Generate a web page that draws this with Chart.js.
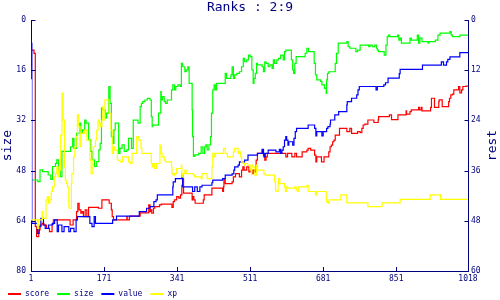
<!DOCTYPE html>
<html><head><meta charset="utf-8">
<script src="https://cdn.jsdelivr.net/npm/chart.js@4/dist/chart.umd.min.js"></script>
<style>html,body{margin:0;padding:0;background:#fff}canvas{display:block}</style>
</head><body>
<canvas id="c" width="500" height="300"></canvas>
<script>
const NAVY = '#00007f';
const MONO = "'DejaVu Sans Mono', 'Liberation Mono', monospace";
const titleText = 'Ranks : 2:9';
const leftAxisTitle = 'size';
const rightAxisTitle = 'rest';
const seriesNames = ['score', 'size', 'value', 'xp'];
const seriesColors = ['#ff0000', '#00ff00', '#0000ff', '#ffff00'];
const xTicks = [1, 171, 341, 511, 681, 851, 1018];

// [x, rank] pairs, value holds until the next x
const score = [[1,12.0],[2,8.0],[8,7.2],[11,8.0],[14,49.4],[19,51.8],[22,50.2],[27,49.0],[31,48.6],[37,49.0],[44,49.8],[50,50.6],[53,48.8],[92,47.8],[99,49.0],[107,47.8],[110,45.8],[113,43.8],[117,45.4],[120,46.2],[123,45.8],[127,47.0],[131,45.4],[135,47.0],[158,44.8],[166,45.0],[183,43.0],[188,43.8],[190,45.4],[193,47.0],[224,47.8],[225,47.0],[230,47.8],[231,47.0],[255,46.9],[275,46.1],[278,44.2],[279,45.8],[282,45.4],[286,46.2],[289,45.0],[300,44.6],[304,44.2],[329,44.0],[332,44.8],[335,43.4],[340,43.0],[345,42.2],[349,42.6],[352,41.8],[354,39.5],[356,37.9],[376,41.4],[377,43.0],[380,42.2],[383,43.0],[402,43.8],[404,43.0],[422,41.8],[447,40.2],[449,41.0],[450,39.9],[453,37.9],[469,39.1],[472,38.7],[477,37.5],[486,36.7],[491,37.5],[494,35.9],[497,35.1],[503,35.9],[508,35.1],[511,36.3],[515,35.9],[518,36.7],[522,35.9],[525,36.3],[528,33.5],[539,31.9],[542,31.1],[545,32.3],[548,33.5],[551,32.7],[594,31.9],[598,32.7],[608,31.9],[615,32.7],[619,31.9],[632,32.7],[643,31.5],[646,31.1],[652,30.7],[661,31.1],[664,32.3],[666,33.9],[677,32.7],[683,33.9],[694,32.7],[697,31.5],[700,30.3],[703,29.9],[706,29.1],[709,28.7],[719,27.5],[736,25.9],[743,26.7],[747,25.9],[761,27.1],[767,26.7],[771,26.9],[774,25.9],[778,25.1],[785,24.9],[799,23.9],[809,24.5],[810,23.8],[835,23.1],[840,22.7],[855,23.8],[874,22.7],[875,21.7],[883,22.5],[886,21.9],[903,21.5],[905,20.9],[909,21.5],[911,20.9],[931,21.7],[933,20.9],[940,18.7],[950,20.9],[951,19.5],[958,19.1],[973,20.7],[975,19.5],[978,18.7],[982,17.9],[985,17.7],[996,16.7],[999,15.9],[1003,17.4],[1006,16.7],[1013,15.9],[1018,15.8]];

const size = [[1,14.9],[17,51.0],[22,51.5],[28,47.8],[41,48.3],[47,49.4],[51,50.8],[58,46.7],[61,45.7],[65,44.6],[69,47.8],[73,49.9],[93,41.9],[98,40.4],[101,37.7],[107,40.9],[114,36.1],[117,32.9],[121,36.1],[126,35.0],[129,31.9],[135,32.9],[140,38.2],[143,41.9],[149,44.6],[154,46.7],[159,45.1],[162,41.4],[165,39.3],[168,28.1],[174,28.7],[177,31.3],[182,29.7],[185,21.2],[188,26.6],[191,37.2],[194,39.3],[197,35.0],[205,32.9],[208,42.5],[213,40.9],[218,39.8],[224,41.9],[228,41.4],[235,37.7],[239,40.9],[250,31.9],[255,32.9],[258,27.6],[261,26.6],[266,26.0],[272,25.5],[278,25.0],[281,25.5],[283,30.8],[284,34.0],[298,33.5],[303,29.7],[304,22.8],[307,25.5],[311,24.4],[314,26.0],[318,26.6],[328,25.5],[331,22.3],[335,20.7],[338,22.3],[343,21.2],[348,20.7],[351,21.2],[354,13.8],[359,14.9],[362,16.5],[366,15.9],[369,14.9],[376,20.2],[377,28.7],[379,37.2],[382,43.5],[391,43.0],[397,42.5],[401,40.4],[405,42.5],[408,40.4],[411,39.8],[415,41.4],[419,39.8],[421,37.2],[424,29.7],[427,22.3],[430,20.7],[433,22.3],[453,20.2],[456,17.0],[466,18.6],[469,17.5],[472,14.9],[475,18.6],[480,17.5],[486,17.0],[491,16.5],[495,14.9],[498,12.2],[503,13.3],[507,12.7],[511,11.2],[515,11.7],[518,15.9],[520,20.2],[523,18.6],[526,17.0],[528,13.8],[539,14.3],[542,14.9],[545,16.5],[548,13.3],[553,13.8],[557,14.9],[562,14.3],[565,15.4],[568,12.7],[573,13.8],[577,12.7],[582,12.2],[588,11.2],[591,12.7],[594,10.1],[607,9.6],[610,12.7],[612,15.9],[615,17.0],[618,13.8],[639,11.7],[643,10.6],[647,9.0],[660,10.1],[663,13.8],[666,17.5],[675,19.1],[678,19.6],[684,20.7],[688,21.8],[689,23.4],[691,19.1],[694,17.0],[709,16.5],[712,13.8],[716,10.6],[736,7.4],[739,6.9],[743,8.5],[757,9.0],[761,10.1],[767,9.6],[787,8.0],[790,8.5],[795,8.0],[801,8.5],[805,8.0],[807,9.0],[810,9.6],[823,10.1],[827,11.2],[830,8.0],[833,5.3],[836,4.8],[854,5.3],[857,4.8],[860,6.4],[863,5.8],[883,7.4],[886,5.8],[900,6.4],[903,4.8],[906,7.4],[911,5.8],[925,6.9],[927,7.4],[942,6.9],[948,6.4],[953,4.8],[976,4.2],[979,3.7],[982,4.8],[999,5.3],[1004,4.8],[1018,4.8]];

const value = [[1,4.8],[3,5.6],[16,48.6],[20,51.0],[24,49.4],[30,47.4],[34,49.0],[42,49.8],[51,49.0],[56,48.6],[62,47.8],[65,50.6],[73,49.0],[78,50.6],[89,49.4],[93,50.6],[101,49.8],[106,50.6],[109,47.8],[138,47.0],[143,48.6],[148,49.4],[151,47.0],[191,48.6],[200,47.8],[253,46.9],[270,45.8],[278,45.0],[287,44.6],[292,43.4],[295,43.0],[331,41.8],[332,39.9],[337,38.7],[352,37.9],[354,37.1],[377,39.9],[382,41.0],[388,39.9],[394,41.0],[399,39.9],[422,39.5],[424,38.9],[447,38.3],[453,37.9],[469,37.1],[473,36.8],[475,35.9],[483,35.1],[486,34.7],[498,33.9],[506,33.5],[528,32.3],[539,31.9],[542,30.9],[543,31.9],[546,32.7],[553,31.9],[571,31.1],[579,31.5],[582,30.9],[585,31.9],[588,31.1],[591,30.3],[594,28.7],[596,27.9],[599,28.7],[601,29.9],[610,29.1],[613,29.9],[616,28.3],[619,26.7],[646,25.9],[661,25.1],[664,25.9],[666,27.7],[678,26.7],[681,27.7],[689,26.7],[692,25.9],[697,25.5],[698,24.9],[708,23.9],[717,22.7],[736,21.9],[737,20.3],[747,19.5],[759,18.7],[762,17.9],[765,16.7],[804,15.9],[807,16.7],[822,15.9],[826,15.5],[832,15.0],[858,13.9],[860,12.8],[912,11.8],[956,10.8],[961,10.0],[968,10.8],[971,10.0],[976,9.4],[999,8.8],[1002,7.8],[1018,7.8]];

const xp = [[1,15.9],[2,14.3],[16,47.8],[19,49.8],[27,47.8],[28,45.8],[36,47.4],[39,43.0],[42,42.2],[45,43.8],[48,43.0],[51,41.0],[55,39.9],[58,37.5],[61,36.7],[64,35.1],[67,37.5],[70,35.9],[73,27.5],[76,17.5],[79,23.9],[81,35.1],[83,38.3],[86,39.1],[89,39.9],[90,44.6],[95,45.0],[96,39.1],[100,36.7],[103,32.7],[106,30.3],[109,27.9],[112,22.7],[115,25.5],[118,30.3],[125,27.1],[131,26.3],[138,28.7],[141,33.5],[145,36.7],[146,33.5],[151,30.3],[154,28.7],[157,26.3],[160,23.9],[163,24.7],[166,25.5],[168,23.9],[169,20.7],[173,23.9],[183,19.1],[187,22.3],[190,26.3],[193,31.9],[196,30.3],[202,31.1],[208,33.5],[214,33.9],[228,32.7],[232,33.9],[236,34.3],[247,31.9],[252,27.9],[257,28.7],[259,30.7],[281,31.9],[283,34.3],[286,35.1],[289,34.3],[293,35.5],[301,34.3],[304,29.9],[306,31.9],[311,32.7],[314,33.5],[328,33.9],[329,35.1],[332,36.7],[335,37.1],[340,36.7],[351,35.5],[352,34.7],[354,37.5],[359,36.7],[362,35.9],[379,36.7],[382,37.1],[397,37.5],[399,37.9],[411,36.7],[422,37.9],[424,35.1],[427,31.9],[430,32.7],[449,31.9],[453,30.7],[458,31.9],[472,32.7],[475,31.5],[483,30.7],[484,31.9],[489,31.5],[491,32.7],[495,33.9],[498,34.3],[500,34.7],[505,34.3],[511,34.7],[514,35.9],[515,36.7],[518,34.7],[522,35.1],[526,37.1],[528,34.7],[543,35.9],[546,36.7],[568,37.1],[570,38.7],[571,40.6],[576,41.0],[577,39.1],[580,37.9],[591,39.1],[593,39.9],[596,41.0],[598,39.9],[615,40.2],[618,39.9],[621,40.6],[624,41.0],[643,39.9],[646,39.5],[663,41.0],[666,41.8],[688,41.0],[689,42.2],[692,43.4],[695,43.8],[722,43.0],[736,41.8],[785,43.7],[818,44.6],[860,43.7],[930,42.9],[954,41.8],[979,42.9],[1018,42.9]];

const seriesData = [score, size, value, xp];
const seriesAxis = ['y1', 'y', 'y1', 'y1'];

const tickFont = { family: MONO, size: 8 };
const titleFont = { family: MONO, size: 13 };

const inwardTicks = {
  id: 'inwardTicks',
  afterDraw(chart) {
    const ctx = chart.ctx, a = chart.chartArea, L = 4;
    const sx = chart.scales.x, sy = chart.scales.y, sy1 = chart.scales.y1;
    ctx.save();
    ctx.strokeStyle = NAVY; ctx.lineWidth = 1;
    ctx.beginPath();
    sx.ticks.forEach((t, i) => { const p = Math.round(sx.getPixelForTick(i)) + 0.5; ctx.moveTo(p, a.bottom); ctx.lineTo(p, a.bottom - L); });
    sy.ticks.forEach((t, i) => { const p = Math.round(sy.getPixelForTick(i)) + 0.5; ctx.moveTo(a.left, p); ctx.lineTo(a.left + L + 0.5, p); });
    sy1.ticks.forEach((t, i) => { const p = Math.round(sy1.getPixelForTick(i)) + 0.5; ctx.moveTo(a.right + 1, p); ctx.lineTo(a.right - L + 0.5, p); });
    ctx.stroke();
    // right axis title, written upward like the left one
    ctx.fillStyle = NAVY;
    ctx.font = '13px ' + MONO;
    ctx.textAlign = 'center';
    ctx.textBaseline = 'middle';
    ctx.translate(sy1.right - 7.8, (a.top + a.bottom) / 2);
    ctx.rotate(-Math.PI / 2);
    ctx.fillText(rightAxisTitle, 0, 0);
    ctx.restore();
  }
};
const layoutTweak = {
  id: 'layoutTweak',
  afterLayout(chart) {
    const lg = chart.legend;
    if (lg) { lg.top += 8; lg.bottom += 8; }
    const sx = chart.scales.x;
    sx.bottom = sx.top + 18; sx.height = 18;
  }
};

new Chart(document.getElementById('c'), {
  type: 'line',
  data: {
    datasets: seriesNames.map((name, i) => ({
      label: name,
      data: seriesData[i].map(p => ({ x: p[0], y: p[1] })),
      yAxisID: seriesAxis[i],
      borderColor: seriesColors[i],
      backgroundColor: seriesColors[i],
      borderWidth: 1.2,
      pointRadius: 0,
      stepped: 'after',
      fill: false,
      order: 3 - i
    }))
  },
  options: {
    responsive: false,
    animation: false,
    devicePixelRatio: 1,
    layout: { padding: 0 },
    plugins: {
      title: { display: true, text: titleText, color: NAVY, font: { family: MONO, size: 13, weight: 'normal', lineHeight: '14px' }, padding: { top: 1, bottom: 5 } },
      legend: {
        position: 'bottom', align: 'start', reverse: true,
        labels: {
          color: NAVY, font: tickFont, boxWidth: 13, boxHeight: 2, padding: 8,
          generateLabels: c => Chart.defaults.plugins.legend.labels.generateLabels(c).map(l => Object.assign(l, { lineWidth: 0 }))
        }
      },
      tooltip: { enabled: false }
    },
    scales: {
      x: {
        type: 'linear', min: 1, max: 1018,
        afterBuildTicks: s => { s.ticks = xTicks.map(v => ({ value: v })); },
        afterFit: s => { s.height = 3; },
        grid: { display: false, drawTicks: false },
        border: { display: true, color: NAVY, width: 1 },
        ticks: { color: NAVY, font: tickFont, padding: 3, maxRotation: 0, autoSkip: false, callback: v => String(v) }
      },
      y: {
        position: 'left', min: 0, max: 80, reverse: true,
        afterFit: s => { s.width = 31; },
        grid: { display: false, drawTicks: false },
        border: { display: true, color: NAVY, width: 1 },
        ticks: { stepSize: 16, color: NAVY, font: tickFont, padding: 5, callback: v => String(v) },
        title: { display: true, text: leftAxisTitle, color: NAVY, font: titleFont, padding: 0 }
      },
      y1: {
        position: 'right', min: 0, max: 60, reverse: true,
        afterFit: s => { s.width = 32; },
        grid: { display: false, drawTicks: false },
        border: { display: true, color: NAVY, width: 1 },
        ticks: { stepSize: 12, color: NAVY, font: tickFont, padding: 3, callback: v => String(v) }
      }
    }
  },
  plugins: [inwardTicks, layoutTweak]
});
</script>
</body></html>
